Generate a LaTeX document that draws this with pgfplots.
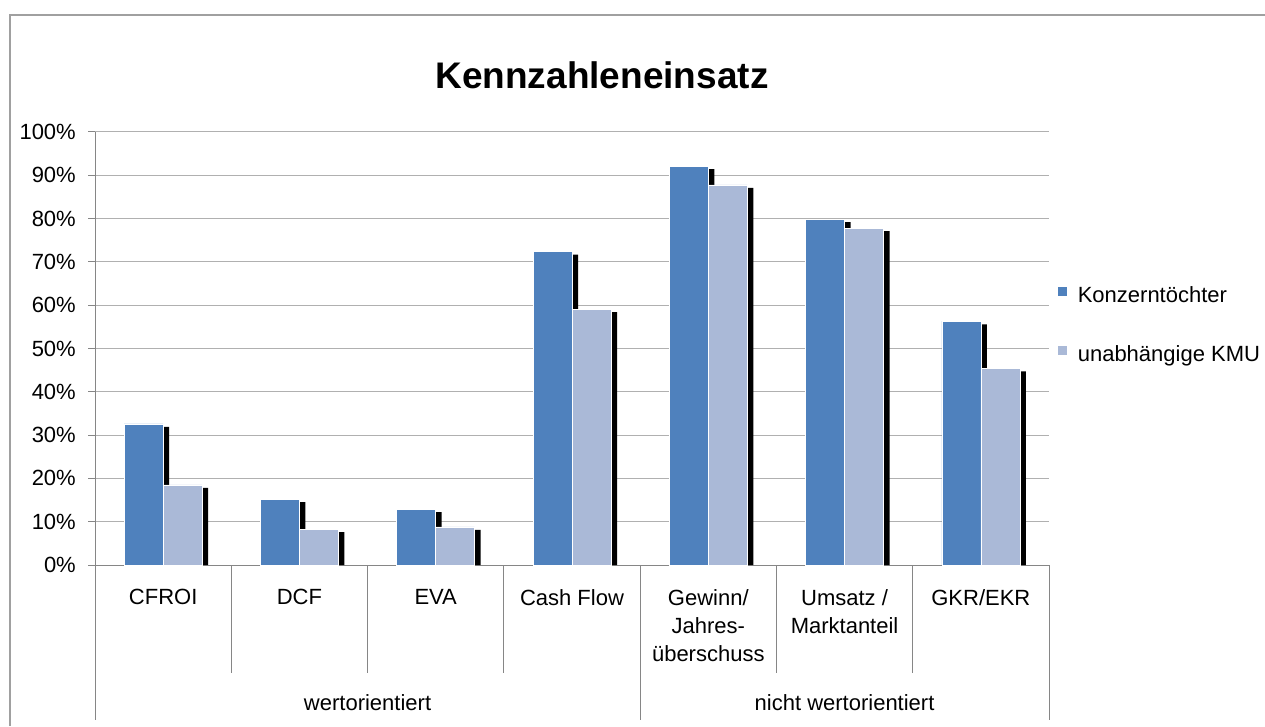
\documentclass[border=0pt]{standalone}
\usepackage{pgfplots}
\usepackage{pgfplotstable}
\pgfplotsset{compat=1.18}
\usepackage{fontspec}
\setmainfont{Liberation Sans}
\definecolor{konz}{HTML}{4F81BD}
\definecolor{kmu}{HTML}{AAB9D7}
\definecolor{axgray}{HTML}{868686}
\definecolor{gridgray}{HTML}{B0B0B0}
\definecolor{framegray}{HTML}{A0A0A0}
\pgfplotstableread{
x konz kmu
0 32.6 18.5
1 15.2 8.3
2 12.9 8.8
3 72.4 59.1
4 92.1 87.8
5 79.9 77.8
6 56.3 45.4
}\datatab
\begin{document}
\begin{tikzpicture}[x=1pt,y=1pt]
\useasboundingbox (0,0) rectangle (1265,726);
\draw[framegray, line width=1.5pt] (10,0) -- (10,711) -- (1266,711);
\node[anchor=base, font=\fontsize{37}{44}\selectfont\bfseries] at (602,637) {Kennzahleneinsatz};
\begin{axis}[
  at={(95pt,161pt)}, anchor=south west,
  scale only axis, width=954pt, height=433pt,
  xmin=-0.5, xmax=6.5, ymin=0, ymax=100,
  axis x line*=bottom, axis y line*=left,
  axis line style={axgray, line width=1pt},
  clip=false,
  /pgf/number format/assume math mode=true,
  ytick={0,10,...,100},
  yticklabel={\pgfmathprintnumber{\tick}\%},
  ymajorgrids, grid style={gridgray, line width=1pt},
  tick align=outside, major tick length=7pt,
  major y tick style={axgray, line width=1pt},
  xtick={0,...,6},
  major x tick style={draw=none},
  xticklabels={CFROI,DCF,EVA,Cash Flow,Gewinn/\\Jahres-\\überschuss,Umsatz /\\Marktanteil,GKR/EKR},
  xticklabel style={align=center, anchor=north, inner sep=0pt, yshift=-17pt, font=\fontsize{22}{28}\selectfont},
  yticklabel style={font=\fontsize{22}{26}\selectfont, inner sep=0pt, xshift=-12pt},
  ybar, bar width=39pt,
  legend style={at={(axis description cs:1,0.551)}, xshift=8pt, anchor=west, draw=none, fill=none,
    inner sep=0pt, row sep=37pt, font=\fontsize{22}{26}\selectfont,
    nodes={inner sep=0pt, text height=16pt, text depth=5pt}},
  legend cell align=left,
  legend image code/.code={\fill[#1] (0pt,1pt) rectangle (10pt,11pt); \path (20pt,0pt);},
]
\addplot[fill=black, draw=none, bar shift=-13.5pt, forget plot] table[x=x, y expr=\thisrow{konz}-0.7] {\datatab};
\addplot[fill=black, draw=none, bar shift=25.5pt, forget plot] table[x=x, y expr=\thisrow{kmu}-0.7] {\datatab};
\addplot[fill=konz, draw=white, line width=0.6pt, bar shift=-19.5pt] table[x=x, y=konz] {\datatab};
\addlegendentry{Konzerntöchter}
\addplot[fill=kmu, draw=white, line width=0.6pt, bar shift=19.5pt] table[x=x, y=kmu] {\datatab};
\addlegendentry{unabhängige KMU}
\foreach \s in {0.5,1.5,2.5,4.5,5.5} {
  \edef\tmp{\noexpand\draw[axgray, line width=1pt] (axis cs:\s,0) -- ++(0pt,-108pt);}\tmp
}
\foreach \s in {-0.5,3.5,6.5} {
  \edef\tmp{\noexpand\draw[axgray, line width=1pt] (axis cs:\s,0) -- ++(0pt,-155pt);}\tmp
}
\node[anchor=base, font=\fontsize{22}{28}\selectfont] at (axis cs:1.5,0) [yshift=-145pt] {wertorientiert};
\node[anchor=base, font=\fontsize{22}{28}\selectfont] at (axis cs:5,0) [yshift=-145pt] {nicht wertorientiert};
\end{axis}
\end{tikzpicture}
\end{document}
